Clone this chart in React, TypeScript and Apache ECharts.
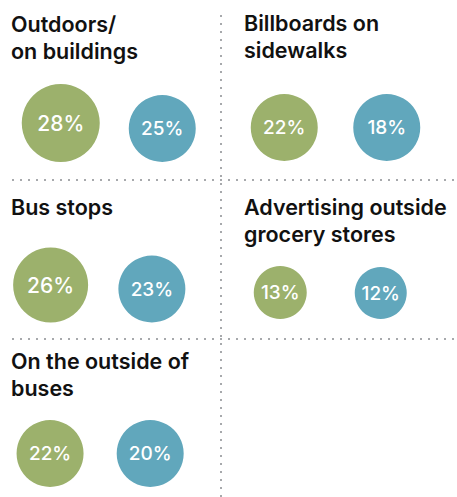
import React, { useEffect, useRef } from "react";
import * as echarts from "echarts";

const categories = [
  "Outdoors/\non buildings",
  "Billboards on\nsidewalks",
  "Bus stops",
  "Advertising outside\ngrocery stores",
  "On the outside of\nbuses",
];
const greenValues = [28, 22, 26, 13, 22];
const blueValues = [25, 18, 23, 12, 20];

const GREEN = "#9cb16c";
const BLUE = "#61a7bc";
const TITLE_FONT = "Inter, Lato, sans-serif";
const LABEL_FONT = "Inter, Lato, sans-serif";

// panel layout: grid left, width, baseline (bottom of circles), title x, title top
const panels = [
  { left: 10, width: 203, base: 162, tx: 11, ty: 10 },
  { left: 233, width: 205, base: 161, tx: 244, ty: 9 },
  { left: -3.5, width: 206, base: 322.5, tx: 11, ty: 193.5 },
  { left: 230, width: 201, base: 319, tx: 244, ty: 193 },
  { left: -4.75, width: 205, base: 487, tx: 11, ty: 347 },
];

function sizeFor(v: number): number {
  if (v >= 26) return 75 + (v - 26) * 1.5;
  if (v >= 15) return 67;
  return 52 + (v - 12);
}

function item(x: number, v: number, color: string) {
  const s = sizeFor(v);
  return {
    value: [x, 0, v],
    symbolSize: s,
    symbolOffset: [0, -s / 2],
    itemStyle: { color, opacity: 1 },
    label: { fontSize: v >= 26 ? 21 : 19 },
  };
}

export default function App() {
  const ref = useRef<HTMLDivElement>(null);
  useEffect(() => {
    if (!ref.current) return;
    const chart = echarts.init(ref.current, null, { renderer: "svg" });
    const grids: any[] = [];
    const xAxes: any[] = [];
    const yAxes: any[] = [];
    const series: any[] = [];
    const graphics: any[] = [];
    categories.forEach((cat, i) => {
      const p = panels[i];
      grids.push({ left: p.left, width: p.width, top: p.base - 100, height: 100 });
      xAxes.push({ type: "value", gridIndex: i, min: -0.5, max: 1.5, show: false });
      yAxes.push({ type: "value", gridIndex: i, min: 0, max: 1, show: false });
      series.push({
        type: "scatter",
        xAxisIndex: i,
        yAxisIndex: i,
        clip: false,
        symbol: "circle",
        itemStyle: { opacity: 1 },
        label: {
          show: true,
          position: "inside",
          color: "#ffffff",
          fontFamily: LABEL_FONT,
          fontWeight: 500,
          formatter: (pr: any) => pr.value[2] + "%",
        },
        emphasis: { disabled: true },
        data: [item(0, greenValues[i], GREEN), item(1, blueValues[i], BLUE)],
      });
      graphics.push({
        type: "text",
        left: p.tx,
        top: p.ty,
        style: {
          text: cat,
          fontSize: 21.5,
          fontWeight: 600,
          fontFamily: TITLE_FONT,
          fill: "#111111",
          lineHeight: 27,
        },
      });
    });
    const dot = { stroke: "#a7a9ac", lineWidth: 2, lineDash: [2, 6] };
    graphics.push(
      { type: "line", shape: { x1: 221, y1: 15, x2: 221, y2: 497 }, style: dot },
      { type: "line", shape: { x1: 12, y1: 180, x2: 454, y2: 180 }, style: dot },
      { type: "line", shape: { x1: 12, y1: 339, x2: 454, y2: 339 }, style: dot }
    );
    chart.setOption({
      animation: false,
      backgroundColor: "#ffffff",
      grid: grids,
      xAxis: xAxes,
      yAxis: yAxes,
      series,
      graphic: graphics,
    });
    return () => chart.dispose();
  }, []);
  return (
    <div
      ref={ref}
      style={{ position: "fixed", left: 0, top: 0, width: 457, height: 497 }}
    />
  );
}
